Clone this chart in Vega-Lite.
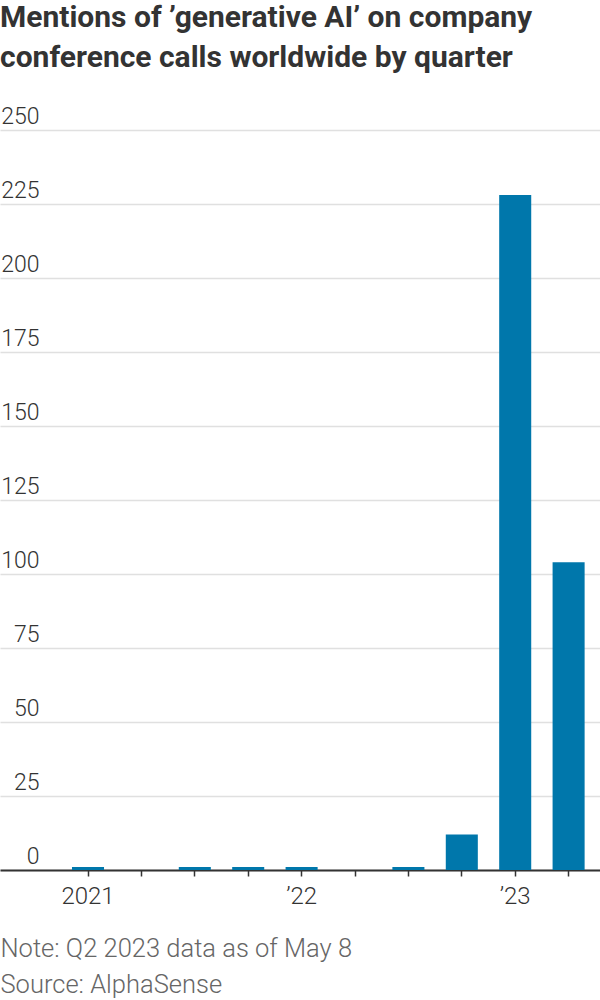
{
  "$schema": "https://vega.github.io/schema/vega-lite/v6.json",
  "width": 600,
  "height": 740,
  "autosize": "none",
  "padding": {"top": 130, "left": 0, "right": 0, "bottom": 130},
  "background": "white",
  "title": {
    "text": ["Mentions of ’generative AI’ on company", "conference calls worldwide by quarter"],
    "anchor": "start",
    "frame": "group",
    "font": "Roboto",
    "fontSize": 30,
    "fontWeight": "bold",
    "color": "#333333",
    "lineHeight": 40,
    "baseline": "top",
    "offset": 0,
    "dy": -32
  },
  "data": {
    "values": [
      {"quarter": "2021-Q1", "mentions": 1},
      {"quarter": "2021-Q2", "mentions": 0},
      {"quarter": "2021-Q3", "mentions": 1},
      {"quarter": "2021-Q4", "mentions": 1},
      {"quarter": "2022-Q1", "mentions": 1},
      {"quarter": "2022-Q2", "mentions": 0},
      {"quarter": "2022-Q3", "mentions": 1},
      {"quarter": "2022-Q4", "mentions": 12},
      {"quarter": "2023-Q1", "mentions": 228},
      {"quarter": "2023-Q2", "mentions": 104}
    ]
  },
  "mark": {"type": "bar", "color": "#0077ab"},
  "encoding": {
    "x": {
      "field": "quarter",
      "type": "ordinal",
      "sort": null,
      "scale": {"paddingInner": 0.4, "paddingOuter": 0.818, "align": 0.824},
      "axis": {
        "title": ["Note: Q2 2023 data as of May 8", "Source: AlphaSense"],
        "titleAnchor": "start",
        "titleAlign": "left",
        "titleBaseline": "top",
        "titleX": 0,
        "titleY": 66,
        "titleFont": "Roboto",
        "titleFontSize": 25.5,
        "titleFontWeight": 300,
        "titleColor": "#666666",
        "titleLineHeight": 36,
        "labelAngle": 0,
        "labelExpr": "datum.value == '2021-Q1' ? '2021' : datum.value == '2022-Q1' ? '’22' : datum.value == '2023-Q1' ? '’23' : ''",
        "labelFont": "Roboto",
        "labelFontSize": 24,
        "labelFontWeight": 300,
        "labelColor": "#333333",
        "labelPadding": 8,
        "domainColor": "#333333",
        "domainWidth": 2,
        "tickColor": "#333333",
        "tickWidth": 1.5,
        "tickSize": 6,
        "grid": false
      }
    },
    "y": {
      "field": "mentions",
      "type": "quantitative",
      "scale": {"domain": [0, 250], "nice": false},
      "axis": {
        "title": null,
        "values": [0, 25, 50, 75, 100, 125, 150, 175, 200, 225, 250],
        "domain": false,
        "ticks": false,
        "tickSize": 0,
        "labelAlign": "right",
        "labelBaseline": "bottom",
        "labelPadding": -39,
        "labelOffset": -2,
        "labelFont": "Roboto",
        "labelFontSize": 23,
        "labelFontWeight": 300,
        "labelColor": "#333333",
        "gridColor": "#e0e0e0",
        "gridWidth": 1.5
      }
    }
  },
  "config": {"view": {"stroke": null}}
}
